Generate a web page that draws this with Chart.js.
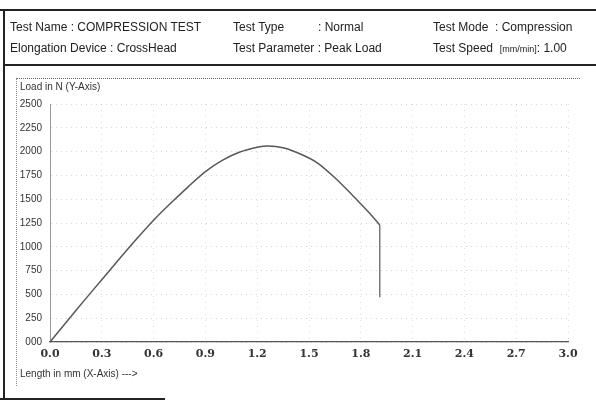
<!DOCTYPE html>
<html>
<head>
<meta charset="utf-8">
<script src="https://cdn.jsdelivr.net/npm/chart.js@4"></script>
<style>
  html, body { margin: 0; padding: 0; background: #fff; }
  body { width: 596px; height: 402px; position: relative; overflow: hidden; font-family: "Liberation Sans", Arial, sans-serif; color: #222; }
  #chart { position: absolute; left: 0; top: 0; }
  .t { position: absolute; font-size: 12px; white-space: nowrap; line-height: 14px; }
  .small { font-size: 9px; }
  .ax { position: absolute; font-size: 10px; white-space: nowrap; color: #333; }
  .line { position: absolute; background: #222; }
  .dot { position: absolute; }
</style>
</head>
<body>
<canvas id="chart" width="596" height="402"></canvas>

<!-- frame -->
<div class="line" style="left:0;top:9px;width:596px;height:2px;"></div>
<div class="line" style="left:3px;top:9px;width:2px;height:391px;"></div>
<div class="line" style="left:3px;top:64px;width:593px;height:2px;"></div>
<div class="line" style="left:0;top:398px;width:165px;height:2px;"></div>
<div class="dot" style="left:16px;top:78px;width:564px;border-top:1px dotted #666;"></div>
<div class="dot" style="left:16px;top:78px;height:308px;border-left:1px dotted #888;"></div>

<!-- header -->
<div class="t" style="left:10px;top:20px;">Test Name : COMPRESSION TEST</div>
<div class="t" style="left:10px;top:41px;">Elongation Device : CrossHead</div>
<div class="t" style="left:233px;top:20px;">Test Type</div>
<div class="t" style="left:318px;top:20px;">: Normal</div>
<div class="t" style="left:233px;top:41px;">Test Parameter : Peak Load</div>
<div class="t" style="left:433px;top:20px;">Test Mode &nbsp;: Compression</div>
<div class="t" style="left:433px;top:41px;">Test Speed &nbsp;<span class="small">[mm/min]</span>: 1.00</div>

<div class="ax" style="left:20px;top:81px;">Load in N (Y-Axis)</div>
<div class="ax" style="left:20px;top:368px;">Length in mm (X-Axis) ---&gt;</div>

<script>
// length in mm (x) and load in N (y)
const riseLength = [0, 0.1, 0.2, 0.3, 0.4, 0.5, 0.6, 0.7, 0.8, 0.9, 1.0, 1.1, 1.2, 1.26, 1.35, 1.45, 1.55, 1.65, 1.75, 1.85, 1.91];
const riseLoad   = [0, 220, 440, 655, 870, 1080, 1280, 1460, 1630, 1790, 1910, 1995, 2045, 2060, 2040, 1975, 1880, 1725, 1545, 1355, 1230];
// sudden drop at break
const dropLength = [1.91, 1.91];
const dropLoad   = [1230, 470];

const xTickLabels = ["0.0", "0.3", "0.6", "0.9", "1.2", "1.5", "1.8", "2.1", "2.4", "2.7", "3.0"];
const yTickLabels = ["000", "250", "500", "750", "1000", "1250", "1500", "1750", "2000", "2250", "2500"];

const risePoints = riseLength.map((x, i) => ({ x: x, y: riseLoad[i] }));
const dropPoints = dropLength.map((x, i) => ({ x: x, y: dropLoad[i] }));

const ctx = document.getElementById("chart").getContext("2d");

const loadChart = new Chart(ctx, {
  type: "line",
  data: {
    datasets: [
      {
        label: "Load",
        data: risePoints,
        borderColor: "#585858",
        borderWidth: 1.5,
        pointRadius: 0,
        tension: 0.3,
        fill: false,
      },
      {
        label: "Break",
        data: dropPoints,
        borderColor: "#666",
        borderWidth: 1.3,
        pointRadius: 0,
        tension: 0,
        fill: false,
      },
    ],
  },
  options: {
    responsive: false,
    animation: false,
    layout: {
      padding: { left: 0, top: 104, right: 28, bottom: 30 },
    },
    scales: {
      x: {
        type: "linear",
        min: 0,
        max: 3,
        afterFit: (scale) => { scale.height = 30; },
        ticks: {
          stepSize: 0.3,
          padding: 6,
          color: "#333",
          font: { family: "DejaVu Serif", size: 11, weight: "bold" },
          maxRotation: 0,
          callback: (v, i) => xTickLabels[i],
        },
        grid: {
          color: "rgba(0,0,0,0.13)",
          drawTicks: false,
        },
        border: { color: "#555", width: 1.3, dash: [1, 5] },
      },
      y: {
        min: 0,
        max: 2500,
        afterFit: (scale) => { scale.width = 50; },
        ticks: {
          stepSize: 250,
          padding: 8,
          color: "#333",
          font: { family: "Liberation Sans", size: 10 },
          callback: (v, i) => yTickLabels[i],
        },
        grid: {
          color: "rgba(0,0,0,0.16)",
          drawTicks: false,
        },
        border: { color: "#999", width: 1, dash: [1, 4] },
      },
    },
    plugins: {
      legend: { display: false },
      tooltip: { enabled: false },
    },
  },
});
</script>
</body>
</html>
